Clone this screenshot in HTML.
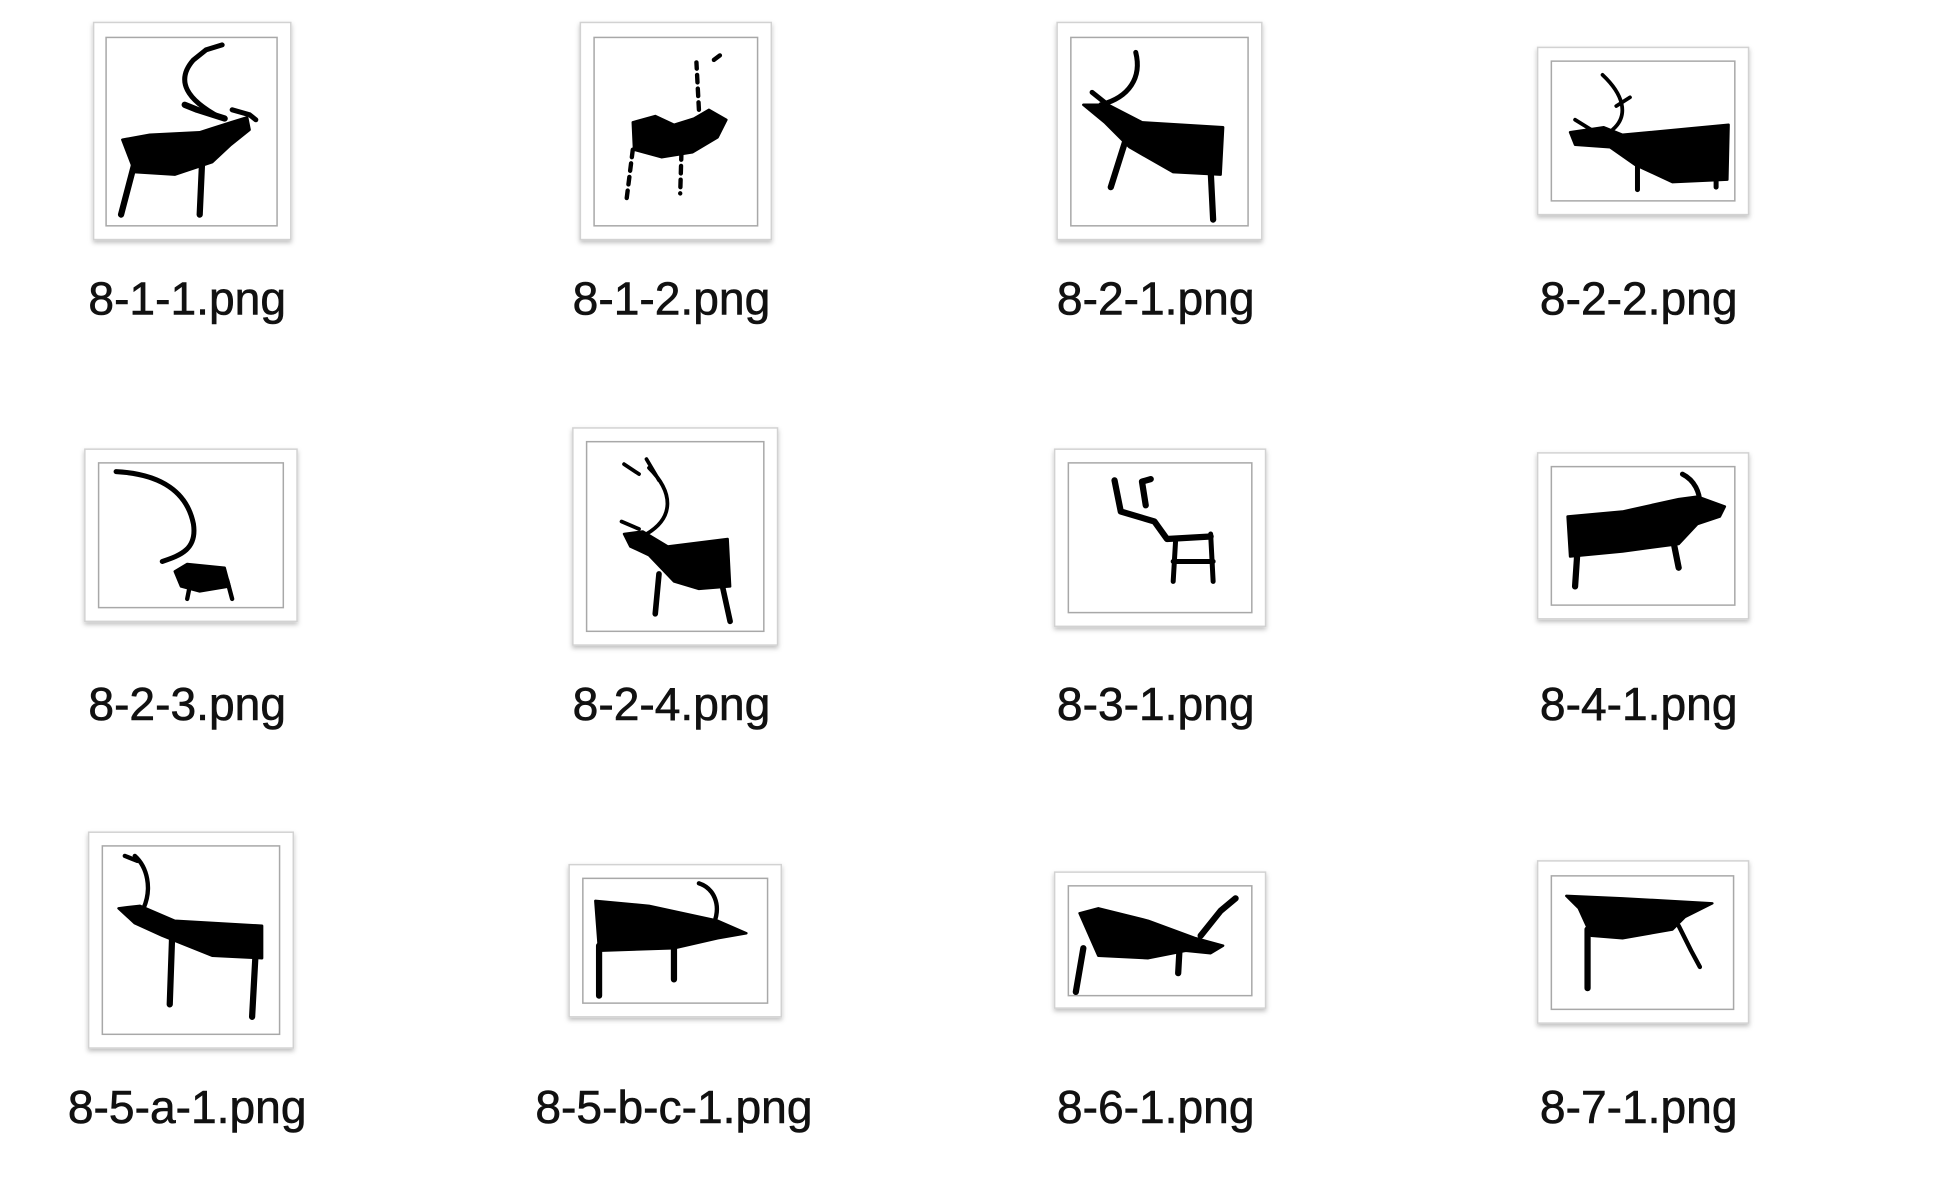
<!DOCTYPE html>
<html><head><meta charset="utf-8"><style>
html,body{margin:0;padding:0;background:#fff;width:1947px;height:1204px;overflow:hidden}
svg{display:block}
.frame{fill:#fff;stroke:#d2d2d2;stroke-width:1.2}
.inner{fill:#fff;stroke:#a8a8a8;stroke-width:1.2}
.lbl{font-family:"Liberation Sans",Arial,sans-serif;font-size:37px;fill:#111;stroke:#111;stroke-width:0.5;text-anchor:middle}
.d{fill:#000;stroke:#000;stroke-linecap:round;stroke-linejoin:round}
.l{fill:none;stroke:#000;stroke-linecap:round;stroke-linejoin:round}
</style></head><body>
<svg width="1947" height="1204" viewBox="0 0 1560 965" preserveAspectRatio="none">
<defs><filter id="sh" x="-10%" y="-10%" width="120%" height="125%"><feDropShadow dx="0" dy="2" stdDeviation="2" flood-color="#000" flood-opacity="0.25"/></filter></defs>

<g>
<rect class="frame" x="75" y="18" width="158" height="174" filter="url(#sh)"/>
<rect class="inner" x="85" y="30" width="137" height="151"/>
<path class="d" stroke-width="2" d="M98 112 L120 108 L160 106 L185 98 L198 94 L200 104 L185 116 L170 130 L140 140 L108 138 Z"/>
<path class="l" stroke-width="5" d="M108 130 L97 172 M162 128 L160 172 M148 84 L158 88 L180 95"/>
<path class="l" stroke-width="4" d="M176 94 C150 80 140 65 155 48 L165 40 L178 36 M186 88 L200 92 L205 96"/>
<text class="lbl" x="150" y="252">8-1-1.png</text>
</g>
<g>
<rect class="frame" x="465" y="18" width="153" height="174" filter="url(#sh)"/>
<rect class="inner" x="476" y="30" width="131" height="151"/>
<path class="d" stroke-width="2" d="M507 98 L525 93 L540 100 L556 95 L568 88 L582 96 L575 110 L555 122 L530 126 L508 120 Z"/>
<path class="l" stroke-width="3.5" stroke-dasharray="6 5" d="M507 120 L502 160 M546 122 L545 155 M560 88 L558 50 M572 48 L580 42"/>
<text class="lbl" x="538" y="252">8-1-2.png</text>
</g>
<g>
<rect class="frame" x="847" y="18" width="164" height="174" filter="url(#sh)"/>
<rect class="inner" x="858" y="30" width="142" height="151"/>
<path class="d" stroke-width="2" d="M868 84 L888 84 L915 98 L980 102 L978 140 L940 138 L905 118 L885 98 Z"/>
<path class="l" stroke-width="5" d="M902 112 L890 150 M970 136 L972 176"/>
<path class="l" stroke-width="4" d="M882 84 C905 78 915 62 910 42 M875 74 L885 82"/>
<text class="lbl" x="926" y="252">8-2-1.png</text>
</g>
<g>
<rect class="frame" x="1232" y="38" width="169" height="134" filter="url(#sh)"/>
<rect class="inner" x="1243" y="49" width="147" height="112"/>
<path class="d" stroke-width="2" d="M1258 106 L1285 102 L1300 108 L1385 100 L1384 144 L1340 146 L1310 132 L1290 118 L1262 116 Z"/>
<path class="l" stroke-width="4" d="M1312 130 L1312 152 M1375 140 L1375 150"/>
<path class="l" stroke-width="3" d="M1292 104 C1306 92 1300 75 1284 60 M1295 85 L1306 78 M1262 96 L1275 104"/>
<text class="lbl" x="1313" y="252">8-2-2.png</text>
</g>

<g>
<rect class="frame" x="68" y="360" width="170" height="138" filter="url(#sh)"/>
<rect class="inner" x="79" y="371" width="148" height="116"/>
<path class="l" stroke-width="4" d="M93 378 C130 380 150 395 155 420 C158 440 145 445 130 450"/>
<path class="d" stroke-width="2" d="M140 458 L150 452 L180 455 L184 470 L160 474 L145 470 Z"/>
<path class="l" stroke-width="3.5" d="M152 470 L150 480 M182 465 L186 480"/>
<text class="lbl" x="150" y="577">8-2-3.png</text>
</g>
<g>
<rect class="frame" x="459" y="343" width="164" height="174" filter="url(#sh)"/>
<rect class="inner" x="470" y="354" width="142" height="152"/>
<path class="d" stroke-width="2" d="M500 428 L515 426 L535 438 L583 432 L585 470 L560 472 L540 466 L520 445 L505 438 Z"/>
<path class="l" stroke-width="4.5" d="M528 460 L525 492 M578 466 L585 498"/>
<path class="l" stroke-width="3" d="M518 428 C540 415 540 395 520 375 M528 385 L518 368 M500 372 L512 380 M498 418 L512 424"/>
<text class="lbl" x="538" y="577">8-2-4.png</text>
</g>
<g>
<rect class="frame" x="845" y="360" width="169" height="142" filter="url(#sh)"/>
<rect class="inner" x="856" y="371" width="147" height="120"/>
<path class="l" stroke-width="5" d="M893 385 L898 410 L925 418 L935 432 L970 430 M918 405 L915 386 L922 384"/>
<path class="l" stroke-width="4" d="M942 432 L940 466 M970 428 L972 466 M940 450 L972 450"/>
<text class="lbl" x="926" y="577">8-3-1.png</text>
</g>
<g>
<rect class="frame" x="1232" y="363" width="169" height="133" filter="url(#sh)"/>
<rect class="inner" x="1243" y="374" width="147" height="111"/>
<path class="d" stroke-width="2" d="M1256 414 L1300 410 L1345 400 L1360 398 L1382 406 L1378 414 L1360 420 L1345 436 L1300 442 L1258 446 Z"/>
<path class="l" stroke-width="5" d="M1264 440 L1262 470 M1340 430 L1345 455"/>
<path class="l" stroke-width="4" d="M1362 404 C1362 395 1358 385 1348 380"/>
<text class="lbl" x="1313" y="577">8-4-1.png</text>
</g>

<g>
<rect class="frame" x="71" y="667" width="164" height="173" filter="url(#sh)"/>
<rect class="inner" x="82" y="678" width="142" height="151"/>
<path class="d" stroke-width="2" d="M95 728 L112 726 L140 738 L210 742 L210 768 L170 766 L130 750 L108 740 Z"/>
<path class="l" stroke-width="5" d="M138 748 L136 805 M205 760 L202 815"/>
<path class="l" stroke-width="3.5" d="M115 728 C122 712 118 695 108 686 M100 686 L110 690"/>
<text class="lbl" x="150" y="900">8-5-a-1.png</text>
</g>
<g>
<rect class="frame" x="456" y="693" width="170" height="122" filter="url(#sh)"/>
<rect class="inner" x="467" y="704" width="148" height="100"/>
<path class="d" stroke-width="2" d="M477 722 L520 726 L575 738 L598 748 L575 752 L540 760 L480 762 Z"/>
<path class="l" stroke-width="5" d="M480 758 L480 798 M540 758 L540 785"/>
<path class="l" stroke-width="3.5" d="M572 740 C578 725 572 712 560 708"/>
<text class="lbl" x="540" y="900">8-5-b-c-1.png</text>
</g>
<g>
<rect class="frame" x="845" y="699" width="169" height="109" filter="url(#sh)"/>
<rect class="inner" x="856" y="710" width="147" height="88"/>
<path class="d" stroke-width="2" d="M865 732 L880 728 L920 738 L958 752 L980 758 L970 764 L950 762 L920 768 L880 766 Z"/>
<path class="l" stroke-width="5" d="M868 760 L862 795 M945 762 L944 780 M962 750 L978 730 L990 720"/>
<text class="lbl" x="926" y="900">8-6-1.png</text>
</g>
<g>
<rect class="frame" x="1232" y="690" width="169" height="130" filter="url(#sh)"/>
<rect class="inner" x="1243" y="702" width="146" height="107"/>
<path class="d" stroke-width="2" d="M1255 718 L1300 720 L1372 724 L1350 735 L1340 745 L1300 752 L1275 750 L1265 728 Z"/>
<path class="l" stroke-width="5" d="M1272 745 L1272 792"/>
<path class="l" stroke-width="3.5" d="M1345 742 L1355 762 L1362 775"/>
<text class="lbl" x="1313" y="900">8-7-1.png</text>
</g>
</svg>
</body></html>
